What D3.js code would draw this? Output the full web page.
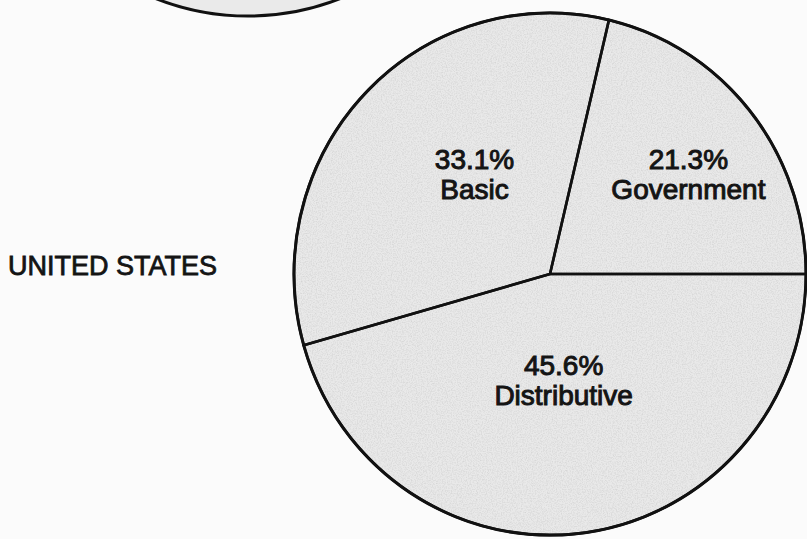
<!DOCTYPE html>
<html>
<head>
<meta charset="utf-8">
<script src="https://cdn.jsdelivr.net/npm/d3@7"></script>
<style>
  html, body { margin: 0; padding: 0; background: #fbfbfb; }
  svg { display: block; }
  text { font-family: "Liberation Sans", Arial, Helvetica, sans-serif; fill: #141414; }
</style>
</head>
<body>
<div class="graph"></div>
<script>
// Data
const sectors = ["Government", "Distributive", "Basic"];
const shares = [21.3, 45.6, 33.1];
const shareLabels = ["21.3%", "45.6%", "33.1%"];
const countryLabel = "UNITED STATES";

// Layout
const width = 807, height = 539;
const cx = 550, cy = 274, radius = 256, squash = 1.02;
// the pie above (other country) is cut off by the page, only its bottom shows
const prevPie = {cx: 248, cy: -245};
// small hand adjustments of the label positions, per sector
const labelNudge = {Government: [38, -10], Distributive: [-4, -14], Basic: [17, -1]};

const svg = d3.select(".graph")
  .append("svg")
  .attr("width", width)
  .attr("height", height);

// grainy paper texture for the tinted pie, kept inside the shape it is applied to
const defs = svg.append("defs");
const grain = defs.append("filter").attr("id", "grain");
grain.append("feTurbulence")
  .attr("type", "fractalNoise")
  .attr("baseFrequency", 0.8)
  .attr("numOctaves", 2)
  .attr("seed", 4)
  .attr("result", "noise");
grain.append("feColorMatrix")
  .attr("in", "noise")
  .attr("type", "matrix")
  .attr("values", "0 0 0 0 0  0 0 0 0 0  0 0 0 0 0  0 0 0 1.4 -0.55")
  .attr("result", "dots");
grain.append("feComposite")
  .attr("in", "dots")
  .attr("in2", "SourceGraphic")
  .attr("operator", "in");

const total = d3.sum(shares);
const start = Math.PI / 2 - 2 * Math.PI * shares[0] / total;

const pie = d3.pie()
  .sort(null)
  .value(d => d.share)
  .startAngle(start)
  .endAngle(start + 2 * Math.PI);

const data = sectors.map((s, i) => ({sector: s, share: shares[i], label: shareLabels[i]}));
const arcs = pie(data);

const arc = d3.arc().innerRadius(0).outerRadius(radius);
const labelArc = d3.arc().innerRadius(radius * 0.5).outerRadius(radius * 0.5);

// previous pie, only its lower rim is inside the page
const prev = svg.append("g")
  .attr("transform", "translate(" + prevPie.cx + "," + prevPie.cy + ") scale(1," + squash + ")");
prev.append("circle")
  .attr("r", radius)
  .style("fill", "#eaeaea")
  .style("stroke", "#111")
  .style("stroke-width", 3)
  .attr("vector-effect", "non-scaling-stroke");

const g = svg.append("g")
  .attr("transform", "translate(" + cx + "," + cy + ") scale(1," + squash + ")");

g.selectAll("path.slice")
  .data(arcs)
  .enter()
  .append("path")
    .attr("class", "slice")
    .attr("d", arc)
    .style("fill", "#e9e9e9")
    .style("stroke", "none");

// grain over the pie
g.append("circle")
  .attr("r", radius)
  .style("fill", "#000")
  .attr("filter", "url(#grain)")
  .style("opacity", 0.12);

// dividing lines and rim
g.selectAll("path.edge")
  .data(arcs)
  .enter()
  .append("path")
    .attr("class", "edge")
    .attr("d", arc)
    .style("fill", "none")
    .style("stroke", "#111")
    .style("stroke-width", 2.6)
    .style("stroke-linejoin", "round")
    .attr("vector-effect", "non-scaling-stroke");

g.append("circle")
  .attr("r", radius)
  .style("fill", "none")
  .style("stroke", "#111")
  .style("stroke-width", 3)
  .attr("vector-effect", "non-scaling-stroke");

// slice labels
const labels = svg.selectAll("text.label")
  .data(arcs)
  .enter()
  .append("text")
    .attr("class", "label")
    .attr("text-anchor", "middle")
    .style("font-size", "28px")
    .style("stroke", "#141414")
    .style("stroke-width", 1)
    .attr("transform", function(d) {
      const c = labelArc.centroid(d);
      const n = labelNudge[d.data.sector];
      return "translate(" + (cx + c[0] + n[0]) + "," + (cy + c[1] * squash + n[1]) + ")";
    });

labels.append("tspan")
  .attr("x", 0)
  .attr("y", -14)
  .text(d => d.data.label);

labels.append("tspan")
  .attr("x", 0)
  .attr("y", 16)
  .text(d => d.data.sector);

// country name
svg.append("text")
  .attr("x", 8)
  .attr("y", cy + 1)
  .style("font-size", "27px")
  .style("stroke", "#141414")
  .style("stroke-width", 0.8)
  .text(countryLabel);
</script>
</body>
</html>
